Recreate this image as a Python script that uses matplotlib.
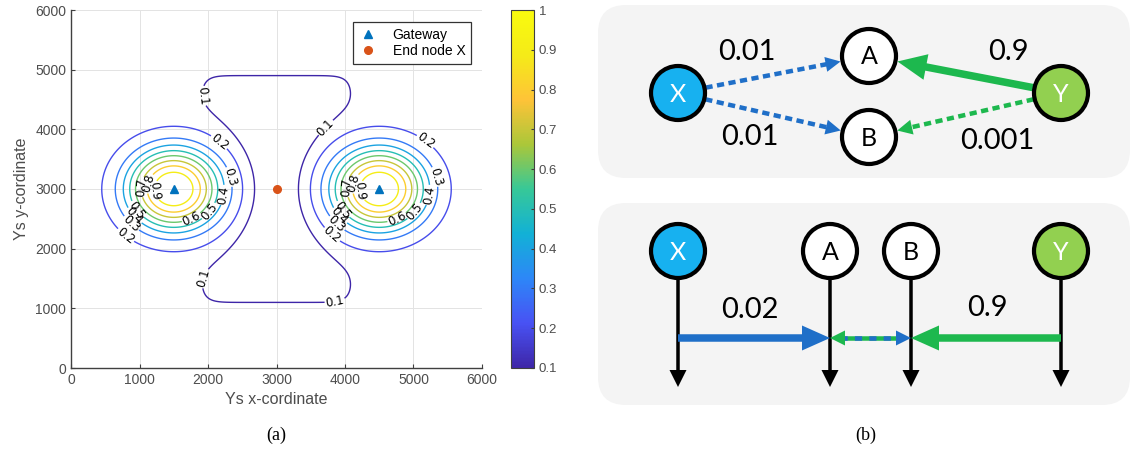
import numpy as np
import matplotlib.pyplot as plt
from matplotlib.colors import LinearSegmentedColormap, Normalize
from matplotlib.cm import ScalarMappable
from matplotlib.lines import Line2D
from matplotlib.patches import Circle, FancyBboxPatch, Polygon

# ---------------- panel (a) data ----------------
gateway_x = [1500, 4500]
gateway_y = [3000, 3000]
end_node_x = [3000]
end_node_y = [3000]
contour_levels = [0.1, 0.2, 0.3, 0.4, 0.5, 0.6, 0.7, 0.8, 0.9]
cbar_ticks = [0.1, 0.2, 0.3, 0.4, 0.5, 0.6, 0.7, 0.8, 0.9, 1.0]
cbar_labels = ['0.1', '0.2', '0.3', '0.4', '0.5', '0.6', '0.7', '0.8', '0.9', '1']
axis_ticks = [0, 1000, 2000, 3000, 4000, 5000, 6000]

# surface model, parameters
floor_level = 0.15
peak_gain = 0.85
ring_scale = 676.0
ring_shape = 2.36
dip_depth = 0.12
dip_half_x = 1134.0
dip_half_y = 1926.0
dip_shape = 10
shoulder_offset = 500.0
shoulder_radius = 1650.0
shoulder_sharp = 20

# contour label spots: angle (deg) around each gateway per level
ring_label_angles = {0.2: [50, -132], 0.3: [14, -137], 0.4: [-8, -142], 0.5: [-36, -147],
                     0.6: [-62], 0.7: [176], 0.8: [166], 0.9: [186]}
outer_label_spots = [(1930, 4560), (3700, 4050), (1950, 1500), (3850, 1130)]

# ---------------- panel (b) data ----------------
top_edges = [('X', 'A', '0.01'), ('X', 'B', '0.01'), ('Y', 'A', '0.9'), ('Y', 'B', '0.001')]
bottom_edges = [('X', 'A', '0.02'), ('Y', 'B', '0.9')]

# parula-like colour map
parula = LinearSegmentedColormap.from_list('parula', [
    '#3e26a8', '#4852f4', '#2d87f7', '#12b1d6', '#37c897',
    '#abc739', '#fec338', '#f5eb18', '#f9fb0e'])

BLUE = '#1f6fc8'
GREEN = '#1db84e'
X_FILL = '#17b1f0'
Y_FILL = '#92d050'

fig = plt.figure(figsize=(11.3, 4.5), dpi=100)
W, H = 1130, 450


def fig_rect(x0, y0, x1, y1):
    return [x0 / W, 1 - y1 / H, (x1 - x0) / W, (y1 - y0) / H]


# ================= panel (a) =================
ax = fig.add_axes(fig_rect(71, 10, 482, 368))
gx = np.linspace(0, 6000, 601)
GX, GY = np.meshgrid(gx, gx)
ex, ey = end_node_x[0], end_node_y[0]
bump = np.zeros_like(GX)
keep = np.zeros_like(GX)
for x0, y0 in zip(gateway_x, gateway_y):
    d = np.hypot(GX - x0, GY - y0)
    bump += peak_gain * np.exp(-(d / ring_scale) ** ring_shape)
    sx = x0 + np.sign(x0 - ex) * shoulder_offset
    ds = np.hypot(GX - sx, GY - y0)
    keep = np.maximum(keep, 1 / (1 + (ds / shoulder_radius) ** shoulder_sharp))
dip = dip_depth * (1 - keep) * np.exp(-(np.abs(GX - ex) / dip_half_x) ** dip_shape
                                      - (np.abs(GY - ey) / dip_half_y) ** dip_shape)
F = floor_level + bump - dip

norm = Normalize(0.1, 1.0)
cs = ax.contour(GX, GY, F, levels=contour_levels, cmap=parula, norm=norm, linewidths=1.0)

spots = list(outer_label_spots)
for x0, y0 in zip(gateway_x, gateway_y):
    for lev, angs in ring_label_angles.items():
        r = ring_scale * (-np.log((lev - floor_level) / peak_gain)) ** (1 / ring_shape)
        for a in angs:
            t = np.radians(a)
            spots.append((x0 + r * np.cos(t), y0 + r * np.sin(t)))
ax.clabel(cs, inline=True, fontsize=8.5, fmt='%g', colors='k', inline_spacing=1,
          manual=spots)

ax.plot(gateway_x, gateway_y, '^', color='#0072BD', ms=6, ls='none', zorder=5)
ax.plot(end_node_x, end_node_y, 'o', color='#D95319', ms=5.5, ls='none', zorder=5)

ax.set_xlim(0, 6000)
ax.set_ylim(0, 6000)
ax.set_xticks(axis_ticks)
ax.set_yticks(axis_ticks)
ax.grid(True, color='#e3e3e3', lw=0.7)
ax.set_axisbelow(True)
for s in ['top', 'right']:
    ax.spines[s].set_visible(False)
for s in ['left', 'bottom']:
    ax.spines[s].set_color('#404040')
    ax.spines[s].set_linewidth(1.0)
ax.tick_params(direction='in', length=3, color='#404040', labelcolor='#4d4d4d',
               labelsize=10)
for lab in ax.get_xticklabels() + ax.get_yticklabels():
    lab.set_family('Liberation Sans')
ax.set_xlabel('Ys x-cordinate', fontsize=11.5, color='#4d4d4d', family='Liberation Sans', labelpad=4)
ax.set_ylabel('Ys y-cordinate', fontsize=11.5, color='#4d4d4d', family='Liberation Sans', labelpad=4)

handles = [Line2D([], [], marker='^', color='#0072BD', ls='none', ms=6),
           Line2D([], [], marker='o', color='#D95319', ls='none', ms=5.5)]
leg = ax.legend(handles, ['Gateway', 'End node X'], loc='upper right',
                bbox_to_anchor=(471 / W, 1 - 22 / H), bbox_transform=fig.transFigure,
                borderaxespad=0, fancybox=False, framealpha=1, edgecolor='#333333',
                prop={'family': 'Liberation Sans', 'size': 10}, handletextpad=1.07,
                handlelength=1.4, borderpad=0.4, labelspacing=0.2)
leg.get_frame().set_linewidth(0.9)

cax = fig.add_axes(fig_rect(511, 10, 534, 368))
cb = fig.colorbar(ScalarMappable(norm=norm, cmap=parula), cax=cax, ticks=cbar_ticks)
cb.ax.set_yticklabels(cbar_labels)
cb.ax.tick_params(direction='in', length=2, color='#404040', labelcolor='#4d4d4d', labelsize=9.5)
for lab in cb.ax.get_yticklabels():
    lab.set_family('Liberation Sans')
cb.outline.set_edgecolor('#404040')

fig.text(276 / W, 1 - 435 / H, '(a)', ha='center', va='center', fontsize=13, family='Liberation Serif')
fig.text(866 / W, 1 - 435 / H, '(b)', ha='center', va='center', fontsize=13, family='Liberation Serif')

# ================= panel (b) =================
bx = fig.add_axes(fig_rect(590, 0, 1130, 450))
bx.set_xlim(590, 1130)
bx.set_ylim(450, 0)
bx.axis('off')

PX = 0.72  # points per pixel
R = 27

top_nodes = {'X': (678, 93), 'A': (869, 56), 'B': (869, 137), 'Y': (1061, 93)}
bottom_nodes = {'X': (678, 251), 'A': (830, 251), 'B': (911, 251), 'Y': (1061, 251)}
fills = {'X': X_FILL, 'Y': Y_FILL, 'A': 'white', 'B': 'white'}
txt_col = {'X': 'white', 'Y': 'white', 'A': 'black', 'B': 'black'}

for y0, y1 in [(5, 178), (203, 405)]:
    bx.add_patch(FancyBboxPatch((598, y0), 532, y1 - y0,
                                boxstyle='round,pad=0,rounding_size=28',
                                fc='#f4f4f4', ec='none', zorder=0))


def head(tip, d, length, width, color, z=4):
    d = np.asarray(d, float)
    d /= np.hypot(*d)
    n = np.array([-d[1], d[0]])
    tip = np.asarray(tip, float)
    base = tip - d * length
    bx.add_patch(Polygon([tip, base + n * width / 2, base - n * width / 2],
                         closed=True, fc=color, ec='none', zorder=z))


def arrow(p0, p1, color, lw_px, hl, hw, dashed=False, z=3):
    p0 = np.asarray(p0, float)
    p1 = np.asarray(p1, float)
    d = (p1 - p0) / np.hypot(*(p1 - p0))
    end = p1 - d * (hl * 0.8)
    kw = dict(color=color, lw=lw_px * PX, solid_capstyle='butt', zorder=z)
    if dashed:
        kw.update(dashes=(1.6, 1.0), dash_capstyle='butt')
    bx.plot([p0[0], end[0]], [p0[1], end[1]], **kw)
    head(p1, d, hl, hw, color, z + 1)


def node(name, pos):
    bx.add_patch(Circle(pos, R, fc=fills[name], ec='black', lw=4.2 * PX, zorder=6))
    bx.text(pos[0], pos[1] + 1, name, ha='center', va='center', fontsize=18,
            family='Lato', color=txt_col[name], zorder=7)


# top diagram
top_style = {('X', 'A'): (BLUE, 4.5, 15, 15, True),
             ('X', 'B'): (BLUE, 4.5, 15, 15, True),
             ('Y', 'A'): (GREEN, 7.5, 29, 26, False),
             ('Y', 'B'): (GREEN, 4.5, 15, 15, True)}
top_label_pos = {('X', 'A'): (747, 52), ('X', 'B'): (750, 137),
                 ('Y', 'A'): (1008, 52), ('Y', 'B'): (997, 141)}
for a, b, lab in top_edges:
    pa, pb = np.array(top_nodes[a], float), np.array(top_nodes[b], float)
    d = (pb - pa) / np.hypot(*(pb - pa))
    col, lw, hl, hw, dsh = top_style[(a, b)]
    arrow(pa + d * (R + 1), pb - d * (R + 2), col, lw, hl, hw, dashed=dsh)
    bx.text(*top_label_pos[(a, b)], lab, ha='center', va='center', fontsize=21,
            family='Lato', color='black')
for name, pos in top_nodes.items():
    node(name, pos)

# bottom diagram
line_y = 338
for name, (x, y) in bottom_nodes.items():
    bx.plot([x, x], [y + R, 372], color='black', lw=3.5 * PX, solid_capstyle='butt', zorder=2)
    head((x, 387), (0, 1), 17, 17, 'black', 2)
    node(name, (x, y))

bottom_label_pos = {('X', 'A'): (750, 310), ('Y', 'B'): (987, 308)}
for a, b, lab in bottom_edges:
    xa, xb = bottom_nodes[a][0], bottom_nodes[b][0]
    col = BLUE if a == 'X' else GREEN
    arrow((xa, line_y), (xb, line_y), col, 7.5, 28, 25)
    bx.text(*bottom_label_pos[(a, b)], lab, ha='center', va='center', fontsize=21,
            family='Lato', color='black')

# A <-> B mixed link
xa, xb = bottom_nodes['A'][0], bottom_nodes['B'][0]
bx.plot([xa + 10, xb - 10], [line_y, line_y], color=GREEN, lw=4.5 * PX, zorder=3)
bx.plot([xa + 10, xb - 10], [line_y, line_y], color=BLUE, lw=4.5 * PX, zorder=3,
        dashes=(1.6, 1.6), dash_capstyle='butt')
head((xa, line_y), (-1, 0), 15, 15, GREEN, 4)
head((xb, line_y), (1, 0), 15, 15, BLUE, 4)

fig.savefig('out.png', dpi=100)
